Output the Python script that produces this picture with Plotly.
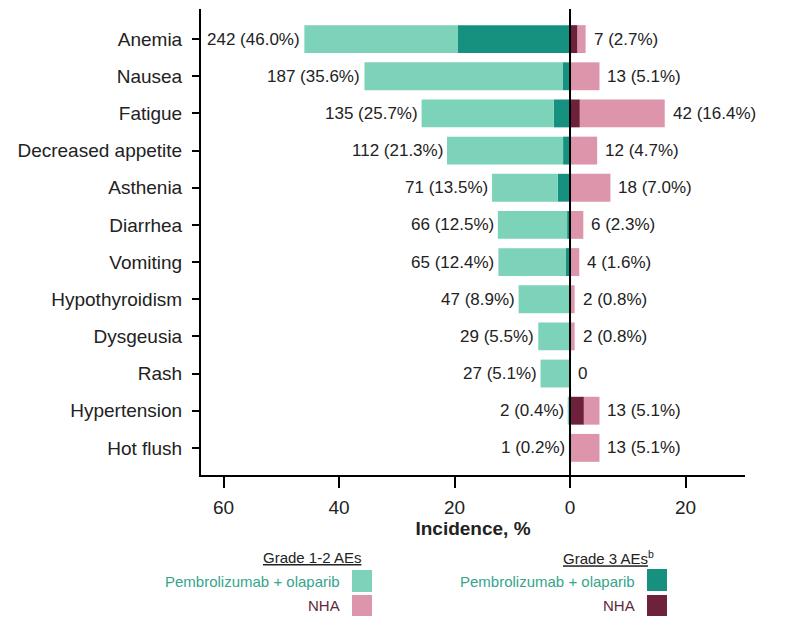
import plotly.graph_objects as go

categories = ["Anemia", "Nausea", "Fatigue", "Decreased appetite", "Asthenia", "Diarrhea",
              "Vomiting", "Hypothyroidism", "Dysgeusia", "Rash", "Hypertension", "Hot flush"]
pembro_n = [242, 187, 135, 112, 71, 66, 65, 47, 29, 27, 2, 1]
pembro_pct = [46.0, 35.6, 25.7, 21.3, 13.5, 12.5, 12.4, 8.9, 5.5, 5.1, 0.4, 0.2]
pembro_g3 = [19.4, 1.3, 2.8, 1.2, 2.1, 0.5, 0.7, 0.0, 0.0, 0.0, 0.0, 0.0]
nha_n = [7, 13, 42, 12, 18, 6, 4, 2, 2, 0, 13, 13]
nha_pct = [2.7, 5.1, 16.4, 4.7, 7.0, 2.3, 1.6, 0.8, 0.8, 0.0, 5.1, 5.1]
nha_g3 = [1.3, 0.0, 1.7, 0.0, 0.0, 0.0, 0.0, 0.0, 0.0, 0.0, 2.4, 0.0]
x_tickvals = [-60, -40, -20, 0, 20]
x_ticktext = ["60", "40", "20", "0", "20"]

C_TEAL_L = "#7dd3b9"
C_TEAL_D = "#16907f"
C_PINK_L = "#dc95ab"
C_MAROON = "#6e213b"
FONT = "Liberation Sans, Arial, sans-serif"

W, H = 788, 634
L, R, T, B = 201, 43, 9, 159
PW, PH = W - L - R, H - T - B

def px(x):
    return (x - L) / PW

def py(y):
    return (H - B - y) / PH

fig = go.Figure()
fig.add_trace(go.Bar(y=categories, x=[-v for v in pembro_g3], orientation="h",
                     marker=dict(color=C_TEAL_D, line=dict(width=0))))
fig.add_trace(go.Bar(y=categories, x=[-(p - g) for p, g in zip(pembro_pct, pembro_g3)], orientation="h",
                     marker=dict(color=C_TEAL_L, line=dict(width=0))))
fig.add_trace(go.Bar(y=categories, x=nha_g3, orientation="h",
                     marker=dict(color=C_MAROON, line=dict(width=0))))
fig.add_trace(go.Bar(y=categories, x=[p - g for p, g in zip(nha_pct, nha_g3)], orientation="h",
                     marker=dict(color=C_PINK_L, line=dict(width=0))))

annotations = []
for c, n, p in zip(categories, pembro_n, pembro_pct):
    annotations.append(dict(x=-p, y=c, xref="x", yref="y", text=f"{n} ({p:.1f}%)",
                            xanchor="right", yanchor="middle", xshift=-2, showarrow=False,
                            font=dict(size=17, color="#222222", family=FONT)))
for c, n, p in zip(categories, nha_n, nha_pct):
    txt = f"{n} ({p:.1f}%)" if n > 0 else "0"
    annotations.append(dict(x=p, y=c, xref="x", yref="y", text=txt,
                            xanchor="left", yanchor="middle", xshift=6, showarrow=False,
                            font=dict(size=17, color="#222222", family=FONT)))

# legend (custom)
def ltext(x, y, text, color, anchor="right"):
    annotations.append(dict(x=px(x), y=py(y), xref="paper", yref="paper", text=text,
                            xanchor=anchor, yanchor="middle", showarrow=False,
                            font=dict(size=15, color=color, family=FONT)))

ltext(363, 557, "<u>Grade 1-2 AEs</u>", "#222222")
ltext(342, 581, "Pembrolizumab + olaparib", "#34a58c")
ltext(342, 605, "NHA", "#5e2a3c")
ltext(656, 557, "<u>Grade 3 AEs</u><sup>b</sup>", "#222222")
ltext(637, 581, "Pembrolizumab + olaparib", "#34a58c")
ltext(637, 605, "NHA", "#5e2a3c")

shapes = [
    dict(type="line", xref="x", yref="paper", x0=0, x1=0, y0=0, y1=1,
         line=dict(color="black", width=2), layer="above"),
]
def swatch(x0, y0, x1, y1, color):
    shapes.append(dict(type="rect", xref="paper", yref="paper", x0=px(x0), x1=px(x1),
                       y0=py(y1), y1=py(y0), fillcolor=color, line=dict(width=0)))
swatch(352, 570, 372, 592, C_TEAL_L)
swatch(352, 595, 372, 616, C_PINK_L)
swatch(647, 569, 667, 591, C_TEAL_D)
swatch(647, 595, 667, 616, C_MAROON)

n = len(categories)
fig.update_layout(
    width=W, height=H,
    margin=dict(l=L, r=R, t=T, b=B, pad=0),
    barmode="relative", bargap=0.25,
    showlegend=False,
    plot_bgcolor="white", paper_bgcolor="white",
    font=dict(family=FONT, color="#222222"),
    annotations=annotations, shapes=shapes,
    xaxis=dict(range=[-63.9, 30.3], tickvals=x_tickvals, ticktext=x_ticktext,
               showline=True, linecolor="black", linewidth=2, mirror=False,
               ticks="outside", ticklen=11, tickwidth=2, tickcolor="black",
               showgrid=False, zeroline=False, tickfont=dict(size=19, color="#222222"),
               ticklabelstandoff=3,
               title=dict(text="<b>Incidence, %</b>", font=dict(size=19, color="#222222"), standoff=4)),
    yaxis=dict(type="category", categoryorder="array", categoryarray=categories,
               range=[n - 1 + 0.73, -0.81],
               showline=True, linecolor="black", linewidth=2,
               ticks="outside", ticklen=7, tickwidth=2, tickcolor="black",
               showgrid=False, zeroline=False, ticklabelstandoff=6,
               tickfont=dict(size=19, color="#222222")),
)

fig.write_html("out.html")
